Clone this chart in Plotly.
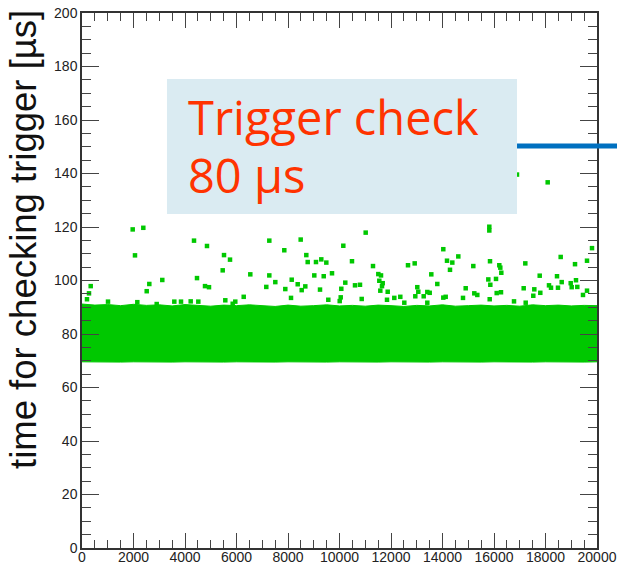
import plotly.graph_objects as go

# Dense band of trigger-check times: envelope sampled along the event axis
band_x = [0, 500, 1000, 1500, 2000, 2500, 3000, 3500, 4000, 4500, 5000, 5500, 6000,
          6500, 7000, 7500, 8000, 8500, 9000, 9500, 10000, 10500, 11000, 11500, 12000,
          12500, 13000, 13500, 14000, 14500, 15000, 15500, 16000, 16500, 17000, 17500,
          18000, 18500, 19000, 19500, 20000]
band_upper = [91.2, 90.8, 91.0, 90.6, 91.1, 90.7, 90.9, 90.5, 91.0, 90.6, 90.4, 90.8,
              90.6, 90.9, 90.5, 90.3, 90.8, 90.4, 90.6, 90.9, 90.5, 90.7, 90.4, 90.8,
              90.6, 90.3, 90.7, 90.5, 90.9, 90.4, 90.6, 90.8, 90.5, 90.7, 90.4, 90.9,
              90.6, 90.8, 90.5, 90.7, 90.6]
band_lower = [69.6, 69.5, 69.6, 69.5, 69.6, 69.5, 69.6, 69.5, 69.6, 69.5, 69.6, 69.5,
              69.6, 69.5, 69.6, 69.5, 69.6, 69.5, 69.6, 69.5, 69.6, 69.5, 69.6, 69.5,
              69.6, 69.5, 69.6, 69.5, 69.6, 69.5, 69.6, 69.5, 69.6, 69.5, 69.6, 69.5,
              69.6, 69.5, 69.6, 69.5, 69.6]

# Individual events above the band (event number, time in us)
event_x = [1969, 2381, 2058, 4350, 4854, 4466, 3118, 2614, 2513, 338, 272, 194, 4777, 4932,
           1010, 2148, 2901, 3585, 3845, 4221, 4517,
           7274, 8493, 7856, 10148, 5515, 5748, 5464, 8711, 8765, 9087, 9293, 9488, 6536,
           7274, 9021, 9387, 9709, 7507, 8144, 8377, 8672, 7157, 7895, 8532, 9243, 10070,
           6280, 8117, 5565, 5953, 5852, 9565, 10008, 10047,
           11017, 14031, 10485, 11301, 12660, 12920, 14175, 14381, 14614, 14291, 15196,
           13565, 11507, 11612, 11546, 11678, 11650, 10225, 10602, 10796, 13798, 14901,
           11585, 11872, 13021, 13060, 13410, 13503, 12944, 13270, 10862, 11845, 12128,
           12361, 12517, 13410, 14031, 14124, 14796, 15235,
           16893, 18085, 15818, 15818, 19806, 18590, 19612, 19146, 15845, 16206, 16245,
           17216, 16284, 17775, 18447, 15779, 16078, 15857, 18629, 19184, 18979, 18136,
           18214, 18485, 19017, 19235, 17153, 17565, 17798, 15352, 16105, 16272, 19612,
           19456, 17526, 15833, 16777, 17231]
event_y = [119.1, 119.7, 109.4, 114.9, 112.9, 100.9, 100.2, 98.7, 96.0, 97.9, 95.2, 93.0, 97.9, 97.5,
           92.1, 91.9, 91.2, 92.1, 92.1, 92.2, 92.1,
           114.9, 115.3, 111.3, 113.0, 109.5, 107.8, 103.8, 109.5, 106.9, 106.9, 107.9, 106.7, 102.3,
           101.9, 101.9, 101.6, 102.7, 99.4, 100.3, 98.6, 97.8, 97.6, 96.8, 96.4, 96.6, 96.9,
           93.9, 93.5, 92.6, 92.1, 91.3, 92.8, 92.3, 93.7,
           117.9, 111.7, 107.2, 105.4, 105.7, 106.4, 107.4, 106.7, 109.0, 104.0, 105.4,
           102.3, 102.4, 101.9, 99.9, 99.0, 97.9, 99.2, 98.2, 98.4, 98.7, 97.1,
           96.2, 95.8, 97.5, 95.8, 95.7, 95.4, 94.1, 94.1, 93.1, 92.8, 93.5,
           93.9, 91.7, 91.7, 93.6, 93.9, 93.5, 95.2,
           139.6, 136.7, 120.1, 118.7, 112.1, 108.8, 107.4, 106.1, 107.2, 105.7, 104.8,
           106.4, 102.9, 101.8, 101.6, 100.4, 100.6, 98.4, 99.4, 100.1, 99.0, 98.2,
           97.3, 97.3, 97.5, 97.6, 97.1, 96.7, 95.4, 94.6, 95.3, 95.6, 96.2,
           94.6, 94.3, 93.0, 92.2, 91.7]

x_ticks = list(range(0, 20001, 2000))
y_ticks = list(range(0, 201, 20))

GREEN = "#00c800"
AXIS_FONT = dict(family="Liberation Sans, Arial, sans-serif", size=14, color="#222222")

fig = go.Figure()

# Band polygon: upper edge left-to-right, lower edge back right-to-left
fig.add_trace(go.Scatter(
    x=band_x + band_x[::-1],
    y=band_upper + band_lower[::-1],
    fill="toself", fillcolor=GREEN, mode="lines",
    line=dict(color=GREEN, width=1),
    hoverinfo="skip", showlegend=False,
))

fig.add_trace(go.Scatter(
    x=event_x, y=event_y, mode="markers",
    marker=dict(symbol="square", size=4.5, color=GREEN, line=dict(width=0)),
    showlegend=False,
))

fig.update_xaxes(
    range=[0, 20000], tickvals=x_ticks, ticktext=[str(v) for v in x_ticks],
    ticks="inside", ticklen=15, tickwidth=1, ticklabelstandoff=-5,
    tickcolor="#444444", minor=dict(dtick=500, ticks="inside", ticklen=8, tickcolor="#444444"),
    showline=True, linecolor="#333333", linewidth=1.5, mirror="ticks",
    showgrid=False, zeroline=False, tickfont=AXIS_FONT, automargin=False,
)
fig.update_yaxes(
    range=[0, 200], tickvals=y_ticks, ticktext=[str(v) for v in y_ticks],
    ticks="inside", ticklen=17, tickwidth=1,
    tickcolor="#444444", minor=dict(dtick=5, ticks="inside", ticklen=9, tickcolor="#444444"),
    showline=True, linecolor="#333333", linewidth=1.5, mirror="ticks",
    showgrid=False, zeroline=False, tickfont=AXIS_FONT, automargin=False,
)

# Callout box and connector line
fig.add_shape(type="rect", xref="paper", yref="paper",
              x0=0.165, x1=0.8447, y0=0.6243, y1=0.8766,
              fillcolor="#daebf2", line=dict(width=0), layer="above")
fig.add_shape(type="line", xref="paper", yref="paper",
              x0=0.8447, x1=1.06, y0=0.7514, y1=0.7514,
              line=dict(color="#0070c0", width=5), layer="above")

CALLOUT_FONT = dict(family="Open Sans, Noto Sans, sans-serif", size=47, color="#ff3300")
fig.add_annotation(text="Trigger check", xref="paper", yref="paper",
                   x=(186 - 82) / 515, y=(548 - 117) / 535,
                   xanchor="left", yanchor="middle", showarrow=False, font=CALLOUT_FONT)
fig.add_annotation(text="80 µs", xref="paper", yref="paper",
                   x=(186 - 82) / 515, y=(548 - 175) / 535,
                   xanchor="left", yanchor="middle", showarrow=False, font=CALLOUT_FONT)

# Y-axis title
fig.add_annotation(text="time for checking trigger [µs]", xref="paper", yref="paper",
                   x=(23 - 82) / 515, y=(548 - 240) / 535, textangle=-90,
                   xanchor="center", yanchor="middle", showarrow=False,
                   font=dict(family="Liberation Sans, Arial, sans-serif", size=36.5, color="#111111"))

fig.update_layout(
    width=617, height=568,
    margin=dict(l=82, r=20, t=13, b=20, autoexpand=False),
    paper_bgcolor="white", plot_bgcolor="white",
    showlegend=False,
)

fig.write_html("out.html")
